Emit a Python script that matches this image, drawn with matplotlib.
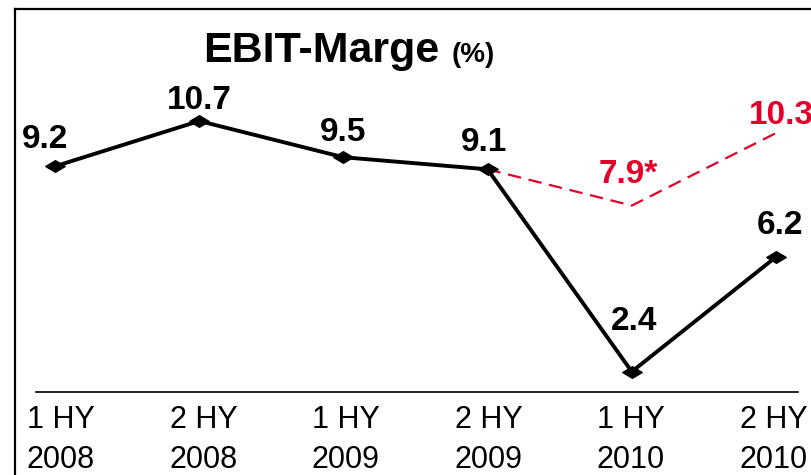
import matplotlib
matplotlib.use("Agg")
import matplotlib.pyplot as plt
from matplotlib.lines import Line2D
from matplotlib.path import Path

plt.rcParams['font.family'] = ['Liberation Sans', 'DejaVu Sans']

periods = ['1 HY\n2008', '2 HY\n2008', '1 HY\n2009', '2 HY\n2009', '1 HY\n2010', '2 HY\n2010']
ebit = [9.2, 10.7, 9.5, 9.1, 2.4, 6.2]
adj_idx = [3, 4, 5]
adj = [9.1, 7.9, 10.3]
adj_labels = ['', '7.9*', '10.3']

black = '#000000'
red = '#e2002b'

W, H = 812, 475
fig = plt.figure(figsize=(W / 100, H / 100), dpi=100)
ax = fig.add_axes([0, 0, 1, 1])
ax.set_axis_off()

# pixel -> data mapping
x0px, dxpx = 55, 144.2
ppu = 30.2  # pixels per percent
ax.set_xlim(-x0px / dxpx, (W - x0px) / dxpx)
ax.set_ylim(10.7 - (H - 121) / ppu, 10.7 + 121 / ppu)

diamond = Path([(-1, 0), (0, 0.6), (1, 0), (0, -0.6), (-1, 0)],
               [Path.MOVETO, Path.LINETO, Path.LINETO, Path.LINETO, Path.CLOSEPOLY])

xs = list(range(len(ebit)))
ax.plot(adj_idx, adj, color=red, lw=1.6, dashes=(6, 3.5), zorder=2)
ax.plot(xs, ebit, color=black, lw=2.8, marker=diamond, markersize=14,
        markerfacecolor=black, markeredgecolor=black, zorder=3)

# value labels
offs = [(-10, 27), (0, 20), (0, 25), (-4, 27), (2, 50), (4, 31)]
for x, v, o in zip(xs, ebit, offs):
    ax.annotate(f'{v:.1f}', (x, v), xytext=o, textcoords='offset pixels',
                ha='center', va='center', fontsize=24, fontweight='bold', color=black)
adj_offs = [(0, 0), (-3, 31), (5, 18)]
for x, v, t, o in zip(adj_idx, adj, adj_labels, adj_offs):
    if t:
        ax.annotate(t, (x, v), xytext=o, textcoords='offset pixels',
                    ha='center', va='center', fontsize=24, fontweight='bold', color=red)

# baseline
ybase = 10.7 - (392 - 121) / ppu
ax.plot([(36 - x0px) / dxpx, (798 - x0px) / dxpx], [ybase, ybase], color=black, lw=1.2)

# category labels (slightly tighter spacing than the points, as in the original)
ylab = 10.7 - (440 - 121) / ppu
for x, lab in zip(xs, periods):
    ax.annotate(lab, (x, ylab), xytext=(6 - 1.7 * x, 0), textcoords='offset pixels',
                ha='center', va='center', fontsize=22, linespacing=1.45, color=black)

# title
fig.text(203 / W, 1 - 62 / H, 'EBIT-Marge', fontsize=31, fontweight='bold',
         ha='left', va='baseline')
fig.text(452 / W, 1 - 62 / H, '(%)', fontsize=20, fontweight='bold',
         ha='left', va='baseline')

# frame
fig.add_artist(Line2D([15 / W, 15 / W], [0, 1 - 9 / H], color=black, lw=1.6))
fig.add_artist(Line2D([15 / W, 1], [1 - 9 / H, 1 - 9 / H], color=black, lw=1.6))

fig.savefig('out.png', dpi=100)
